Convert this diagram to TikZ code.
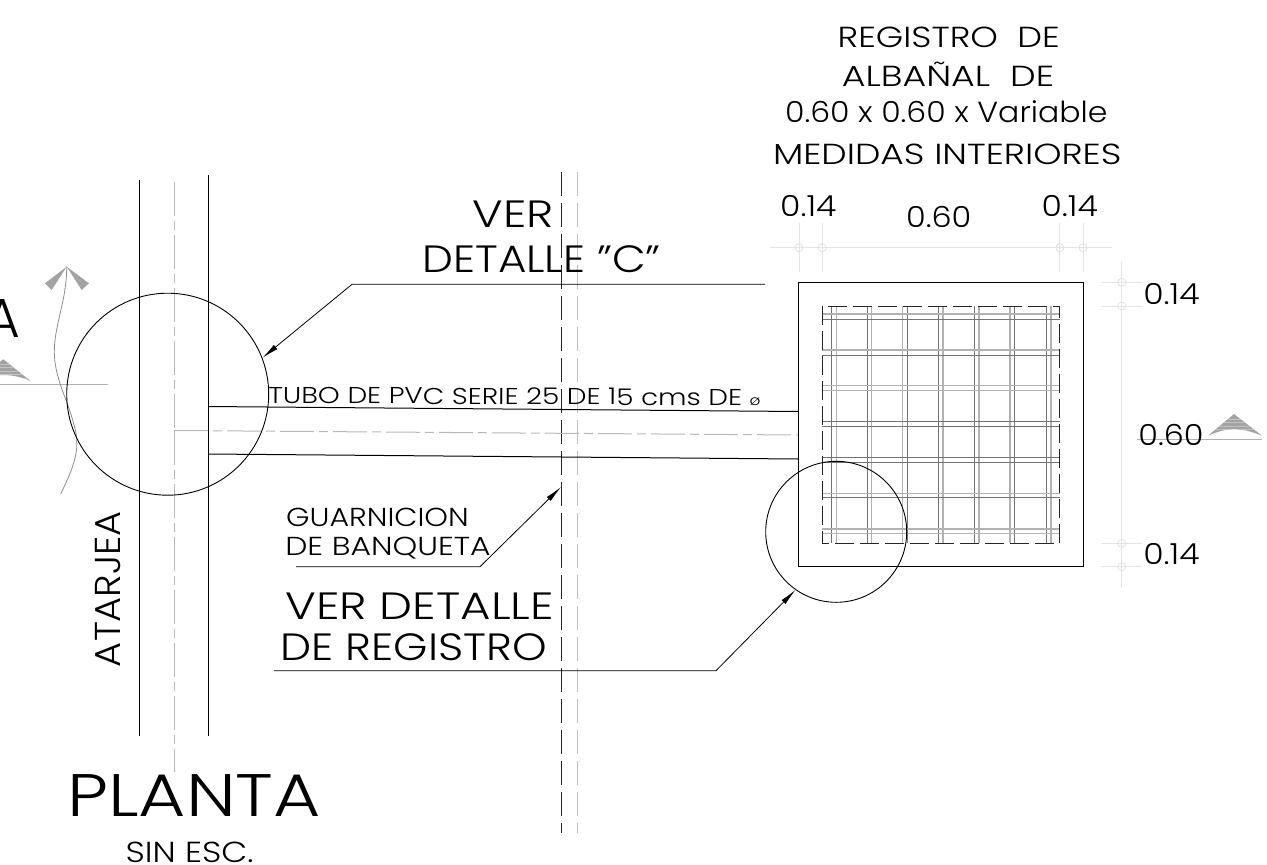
\documentclass[tikz,border=0pt]{standalone}
\usepackage{graphicx}
\usepackage{fontspec}
\setmainfont{Poppins}[UprightFont={* Light}]
\usetikzlibrary{arrows.meta}
\newcommand{\fsz}[1]{\fontsize{#1}{#1}\selectfont}
\newcommand{\sx}[2]{\scalebox{#1}[1]{#2}}
\tikzset{
 x=1pt,y=-1pt,
 txt/.style={inner sep=0pt,anchor=base,text=black,font=\fsz{#1}},
 ink/.style={draw=black,line width=1pt},
 leader/.style={draw=black,line width=0.8pt,-{Latex[length=17pt,width=5.5pt]}},
 axis/.style={draw=black!28,line width=1pt,dash pattern=on 34pt off 5pt on 9pt off 5pt},
 dim/.style={draw=black!10,line width=1pt},
 dimc/.style={draw=black!13,line width=0.7pt},
 rebar dark/.style={draw=black!55,line width=0.8pt},
 rebar light/.style={draw=black!30,line width=1.3pt},
 guard/.style={draw=black!85,line width=0.9pt,dash pattern=on 24pt off 7pt},
 guard light/.style={draw=black!25,line width=1pt,dash pattern=on 24pt off 7pt},
 sec/.style={draw=black!30,line width=1pt},
 secfill/.style={fill=black!36,draw=none},
 stripe/.style={draw=black!24,line width=1pt},
 detail/.style={circle,draw=black,line width=0.9pt,inner sep=0pt},
}
\begin{document}
\begin{tikzpicture}
\useasboundingbox (0,0) rectangle (1267,865);
% road
\draw[ink] (139,180) -- (139,736);
\draw[ink] (208,175) -- (208,736);
\draw[axis] (174,182) -- (174,430.5);
\draw[axis] (174,430.5) -- (174,772);
% guarnicion
\draw[guard] (561,172) -- (561,833);
\draw[guard light] (577,172) -- (577,833);
% pipe
\coordinate (p1a) at (208,406.5); \coordinate (p1b) at (798.5,411.5);
\coordinate (p2a) at (208,454); \coordinate (p2b) at (798.5,459);
\coordinate (p0a) at (174,430.5); \coordinate (p0b) at (798.5,435);
\draw[ink] (p1a) -- (p1b);
\draw[ink] (p2a) -- (p2b);
\draw[axis] (p0a) -- (p0b);
% rebars
\foreach \a/\b in {831.7/836.3,907/902.7,938.3/943,974/979,1014.7/1010,1046/1051,867.3/871.7}{
 \draw[rebar dark] (\a,306) -- (\a,543.3);
 \draw[rebar light] (\b,306) -- (\b,543.3);
}
\foreach \a in {319,355,421.7,426.3,457.3,462,497.7}{
 \draw[rebar dark] (822.3,\a) -- (1059.7,\a);
}
\foreach \a in {314,350,385.7,390.7,493.3,529,533.7}{
 \draw[rebar light] (822.3,\a) -- (1059.7,\a);
}
% registro
\node[draw=black,line width=1.1pt,minimum size=284.5pt,inner sep=0pt] (reg) at (941,424.5) {};
\draw[guard,dash pattern=on 19pt off 6pt] (822.3,306) rectangle (1059.7,543.3);
% dimensions top
\draw[dim] (770,247.7) -- (1112,247.7);
\foreach \x in {799,822.3,1059.7,1083}{
 \draw[dim] (\x,223) -- (\x,271.7);
 \draw[dimc] (\x,247.7) circle (4);
}
% dimensions right
\draw[dim] (1121.7,261.7) -- (1121.7,588);
\foreach \y in {282.3,306,543.3,566.7}{
 \draw[dim] (1101,\y) -- (1142,\y);
 \draw[dimc] (1121.7,\y) circle (4);
}
% section marks
\begin{scope}
 \path[secfill] (1208,435.7) -- (1234,414) -- (1262,435.7) .. controls (1240,427) and (1228,427) .. cycle;
 \clip (1208,435.7) -- (1234,414) -- (1262,435.7) .. controls (1240,427) and (1228,427) .. cycle;
 \foreach \y in {419,422.5,426,429.5}{ \draw[stripe] (1200,\y) -- (1270,\y); }
\end{scope}
\draw[sec] (1137,439) -- (1262,439);
\begin{scope}
 \path[secfill] (30.7,381) -- (3.3,359.3) -- (-25,381) .. controls (-5,373) and (12,373) .. cycle;
 \clip (30.7,381) -- (3.3,359.3) -- (-25,381) .. controls (-5,373) and (12,373) .. cycle;
 \foreach \y in {364,367.5,371,374.5,378}{ \draw[stripe] (-30,\y) -- (35,\y); }
\end{scope}
\draw[sec] (0,384) -- (108,384);
% north-like arrow
\path[secfill] (66.7,266.7) -- (45,283.3) -- (51.7,290) -- cycle;
\path[secfill] (66.7,266.7) -- (89,283.3) -- (81.7,290) -- cycle;
\draw[draw=black!45,line width=0.8pt] (66.7,266.7) .. controls (67,300) and (54,325) .. (54.3,353) .. controls (55,380) and (68,400) .. (74,425) .. controls (82,450) and (72,470) .. (60.7,494);
% circles
\node[detail,minimum size=202pt] (c1) at (167.7,394.2) {};
\node[detail,minimum size=141pt] (c2) at (836.2,531.8) {};
% leaders
\coordinate (l1a) at (765,284.3); \coordinate (l1b) at (352,284.3);
\coordinate (l2a) at (296,566.7); \coordinate (l2b) at (480,566.7); \coordinate (l2c) at (561,487);
\coordinate (l3a) at (274,670.7); \coordinate (l3b) at (716,670.7);
\draw[leader] (l1a) -- (l1b) -- (c1.21);
\draw[leader] (l2a) -- (l2b) -- (l2c);
\draw[leader] (l3a) -- (l3b) -- (c2.235.4);
% texts
\node[txt=29] (t1) at (948.7,47.7) {\sx{1.21}{REGISTRO\ \ DE}};
\node[txt=29] (t2) at (948,86.7) {\sx{1.254}{ALBAÑAL\ \ DE}};
\node[txt=29] (t3) at (946.3,122.7) {\sx{1.087}{0.60 x 0.60 x Variable}};
\node[txt=29] (t4) at (947.2,164) {\sx{1.24}{MEDIDAS INTERIORES}};
\node[txt=29] (d1) at (808.3,216.7) {\sx{1.14}{0.14}};
\node[txt=29] (d2) at (938.7,227.3) {\sx{1.10}{0.60}};
\node[txt=29] (d3) at (1069.7,216.7) {\sx{1.14}{0.14}};
\node[txt=29] (d4) at (1171.5,304) {\sx{1.14}{0.14}};
\node[txt=29] (d5) at (1171,445) {\sx{1.10}{0.60}};
\node[txt=29] (d6) at (1171.5,564.3) {\sx{1.14}{0.14}};
\node[txt=38] (v1) at (513.5,227.7) {\sx{1.22}{VER}};
\node[txt=38] (v2) at (541.7,272.3) {\sx{1.15}{DETALLE "C"}};
\node[txt=38] (v3) at (419.7,619) {\sx{1.229}{VER DETALLE}};
\node[txt=38] (v4) at (413.7,660.7) {\sx{1.158}{DE REGISTRO}};
\node[txt=36,rotate=90] (at) at (120.7,589) {\sx{1.066}{ATARJEA}};
\node[txt=60] (pl) at (194.2,816.7) {\sx{1.21}{PLANTA}};
\node[txt=29] (se) at (189.6,862.7) {\sx{1.165}{SIN ESC.}};
\node[txt=26] (gu) at (377.5,526) {\sx{1.157}{GUARNICION}};
\node[txt=26] (ba) at (388,555) {\sx{1.207}{DE BANQUETA}};
\node[txt=23,rotate=-0.3] (tb) at (514.5,404.5) {\sx{1.21}{TUBO DE PVC SERIE 25 DE 15 cms DE {\fsz{14}ø}}};
\node[txt=55] (aa) at (2.7,337.3) {A};
\end{tikzpicture}
\end{document}
